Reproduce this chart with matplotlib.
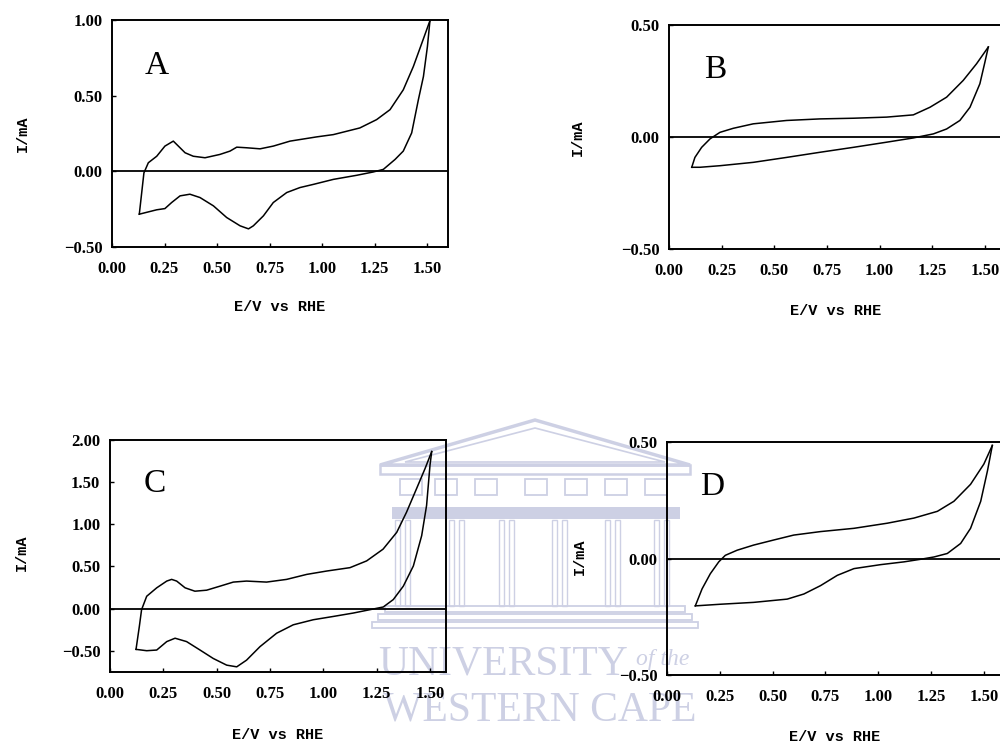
import matplotlib
matplotlib.use("Agg")
import matplotlib.pyplot as plt
from matplotlib.patches import Polygon, Rectangle

# ---------------- data (E / V vs RHE, I / mA) ----------------
# Panel A
A_fwd_E = [0.130, 0.152, 0.173, 0.213, 0.252, 0.292, 0.316, 0.348, 0.387, 0.443, 0.514,
           0.562, 0.594, 0.641, 0.705, 0.768, 0.848, 0.975, 1.054, 1.180, 1.260, 1.324,
           1.387, 1.435, 1.475, 1.514]
A_fwd_I = [-0.283, -0.010, 0.057, 0.100, 0.167, 0.200, 0.167, 0.123, 0.100, 0.090, 0.112,
           0.134, 0.160, 0.156, 0.149, 0.167, 0.200, 0.228, 0.243, 0.287, 0.342, 0.408,
           0.539, 0.693, 0.846, 0.996]
A_rev_E = [1.514, 1.502, 1.483, 1.459, 1.427, 1.387, 1.348, 1.292, 1.244, 1.165, 1.054,
           0.959, 0.895, 0.832, 0.768, 0.721, 0.673, 0.650, 0.610, 0.546, 0.483, 0.419,
           0.371, 0.324, 0.284, 0.252, 0.213, 0.130]
A_rev_I = [0.996, 0.825, 0.627, 0.474, 0.254, 0.134, 0.079, 0.013, -0.004, -0.026, -0.053,
           -0.086, -0.107, -0.140, -0.206, -0.294, -0.360, -0.380, -0.360, -0.305, -0.228,
           -0.173, -0.151, -0.162, -0.206, -0.246, -0.254, -0.283]

# Panel B
B_fwd_E = [0.108, 0.123, 0.155, 0.195, 0.242, 0.305, 0.400, 0.558, 0.717, 0.875, 1.033,
           1.160, 1.239, 1.318, 1.397, 1.460, 1.516]
B_fwd_I = [-0.134, -0.090, -0.045, -0.007, 0.022, 0.040, 0.060, 0.075, 0.082, 0.085, 0.090,
           0.100, 0.134, 0.179, 0.254, 0.328, 0.403]
B_rev_E = [1.516, 1.500, 1.476, 1.429, 1.381, 1.318, 1.255, 1.160, 1.033, 0.875, 0.717,
           0.558, 0.400, 0.242, 0.147, 0.108]
B_rev_I = [0.403, 0.336, 0.239, 0.134, 0.075, 0.037, 0.015, -0.003, -0.022, -0.045, -0.067,
           -0.090, -0.112, -0.127, -0.134, -0.134]

# Panel C
C_fwd_E = [0.122, 0.1375, 0.148, 0.172, 0.219, 0.266, 0.289, 0.3125, 0.352, 0.398, 0.453,
           0.516, 0.578, 0.640, 0.734, 0.828, 0.922, 1.016, 1.125, 1.203, 1.280, 1.344,
           1.390, 1.437, 1.477, 1.508]
C_fwd_I = [-0.482, -0.211, -0.012, 0.147, 0.247, 0.327, 0.347, 0.327, 0.247, 0.207, 0.219,
           0.267, 0.315, 0.327, 0.315, 0.347, 0.406, 0.446, 0.486, 0.566, 0.705, 0.904,
           1.143, 1.422, 1.661, 1.861]
C_rev_E = [1.508, 1.500, 1.484, 1.461, 1.422, 1.375, 1.328, 1.281, 1.234, 1.140, 1.047,
           0.953, 0.859, 0.781, 0.703, 0.640, 0.594, 0.547, 0.484, 0.422, 0.359, 0.305,
           0.266, 0.219, 0.172, 0.122]
C_rev_I = [1.861, 1.700, 1.223, 0.865, 0.506, 0.267, 0.108, 0.020, -0.004, -0.052, -0.092,
           -0.131, -0.191, -0.291, -0.450, -0.610, -0.689, -0.669, -0.590, -0.490, -0.390,
           -0.350, -0.390, -0.490, -0.498, -0.482]

# Panel D
D_fwd_E = [0.134, 0.166, 0.205, 0.245, 0.276, 0.332, 0.410, 0.506, 0.600, 0.727, 0.885,
           1.043, 1.169, 1.280, 1.358, 1.437, 1.500, 1.540]
D_fwd_I = [-0.203, -0.130, -0.065, -0.014, 0.014, 0.036, 0.058, 0.080, 0.101, 0.116, 0.130,
           0.152, 0.174, 0.203, 0.246, 0.319, 0.406, 0.486]
D_rev_E = [1.540, 1.517, 1.485, 1.437, 1.390, 1.327, 1.264, 1.200, 1.122, 1.011, 0.885,
           0.806, 0.727, 0.648, 0.569, 0.410, 0.253, 0.134]
D_rev_I = [0.486, 0.377, 0.246, 0.130, 0.065, 0.022, 0.007, -0.003, -0.014, -0.026, -0.043,
           -0.072, -0.116, -0.152, -0.174, -0.188, -0.196, -0.203]

x_ticks = [0.00, 0.25, 0.50, 0.75, 1.00, 1.25, 1.50]
A_yticks = [-0.50, 0.00, 0.50, 1.00]
B_yticks = [-0.50, 0.00, 0.50]
C_yticks = [-0.50, 0.00, 0.50, 1.00, 1.50, 2.00]
D_yticks = [-0.50, 0.00, 0.50]
labels = ["A", "B", "C", "D"]
xlabel = "E/V vs RHE"
ylabel = "I/mA"

# ---------------- figure ----------------
fig = plt.figure(figsize=(10, 7.44), dpi=100)

# watermark (background decoration)
wm = fig.add_axes([0, 0, 1, 1], zorder=-5)
wm.set_xlim(0, 1000)
wm.set_ylim(744, 0)
wm.axis("off")
wc = "#cdd0e4"
wm.add_patch(Polygon([[380, 465], [535, 420], [690, 465]], closed=True, fill=False,
                     ec=wc, lw=2.5))
wm.add_patch(Polygon([[405, 462], [535, 428], [665, 462]], closed=True, fill=False,
                     ec=wc, lw=1.2))
wm.add_patch(Rectangle((380, 465), 310, 9, fc="none", ec=wc, lw=1.8))
for x0 in [400, 435, 475, 525, 565, 605, 645]:
    wm.add_patch(Rectangle((x0, 479), 22, 16, fc="none", ec=wc, lw=1.3))
wm.add_patch(Rectangle((392, 507), 288, 12, fc=wc, ec="none"))
for xc in [403, 457, 507, 560, 613, 662]:
    wm.add_patch(Rectangle((xc - 8, 520), 5, 86, fc="none", ec=wc, lw=1.0))
    wm.add_patch(Rectangle((xc + 2, 520), 5, 86, fc="none", ec=wc, lw=1.0))
for (x0, w, y0) in [(385, 300, 606), (378, 314, 614), (372, 326, 622)]:
    wm.add_patch(Rectangle((x0, y0), w, 6, fc="none", ec=wc, lw=1.3))
wm.text(378, 664, "UNIVERSITY", color=wc, fontsize=30, family="Liberation Serif",
        va="center", ha="left")
wm.text(636, 660, "of the", color=wc, fontsize=17, family="Liberation Serif",
        style="italic", va="center", ha="left")
wm.text(383, 710, "WESTERN CAPE", color=wc, fontsize=30, family="Liberation Serif",
        va="center", ha="left")

tick_font = dict(family="Liberation Serif", weight="bold", size=12)
lab_font = dict(family="Liberation Mono", weight="bold", fontsize=11)

panels = [
    dict(rect=[0.112, 0.668, 0.336, 0.305], xlim=(0, 1.6), ylim=(-0.5, 1.0), yt=A_yticks,
         fe=A_fwd_E, fi=A_fwd_I, re=A_rev_E, ri=A_rev_I, lab=(0.214, 0.70),
         ylc=(-0.245, 0.50), xlc=(0.50, -0.235)),
    dict(rect=[0.669, 0.665, 0.337, 0.301], xlim=(0, 1.6), ylim=(-0.5, 0.5), yt=B_yticks,
         fe=B_fwd_E, fi=B_fwd_I, re=B_rev_E, ri=B_rev_I, lab=(0.218, 0.30),
         ylc=(-0.25, 0.50), xlc=(0.495, -0.245)),
    dict(rect=[0.110, 0.0968, 0.336, 0.312], xlim=(0, 1.575), ylim=(-0.75, 2.0), yt=C_yticks,
         fe=C_fwd_E, fi=C_fwd_I, re=C_rev_E, ri=C_rev_I, lab=(0.211, 1.48),
         ylc=(-0.24, 0.513), xlc=(0.50, -0.24)),
    dict(rect=[0.667, 0.0927, 0.338, 0.313], xlim=(0, 1.6), ylim=(-0.5, 0.5), yt=D_yticks,
         fe=D_fwd_E, fi=D_fwd_I, re=D_rev_E, ri=D_rev_I, lab=(0.213, 0.31),
         ylc=(-0.237, 0.506), xlc=(0.497, -0.235)),
]

for p, letter in zip(panels, labels):
    ax = fig.add_axes(p["rect"])
    ax.set_facecolor("none")
    ax.plot(p["fe"], p["fi"], color="black", lw=1.1)
    ax.plot(p["re"], p["ri"], color="black", lw=1.1)
    ax.axhline(0, color="black", lw=1.3)
    ax.set_xlim(*p["xlim"])
    ax.set_ylim(*p["ylim"])
    ax.set_xticks(x_ticks)
    ax.set_yticks(p["yt"])
    ax.set_xticklabels([f"{v:.2f}" for v in x_ticks], **tick_font)
    ax.set_yticklabels([f"{v:.2f}".replace("-", "\u2212") for v in p["yt"]], **tick_font)
    ax.tick_params(axis="x", direction="in", length=3, width=1, pad=10)
    ax.tick_params(axis="y", direction="in", length=3, width=1, pad=7)
    for s in ax.spines.values():
        s.set_linewidth(1.4)
    ax.set_xlabel(xlabel, **lab_font)
    ax.set_ylabel(ylabel, **lab_font)
    ax.xaxis.set_label_coords(*p["xlc"])
    ax.yaxis.set_label_coords(*p["ylc"])
    ax.text(p["lab"][0], p["lab"][1], letter, family="Liberation Serif", fontsize=24,
            ha="center", va="center")

fig.savefig("out.png", dpi=100)
